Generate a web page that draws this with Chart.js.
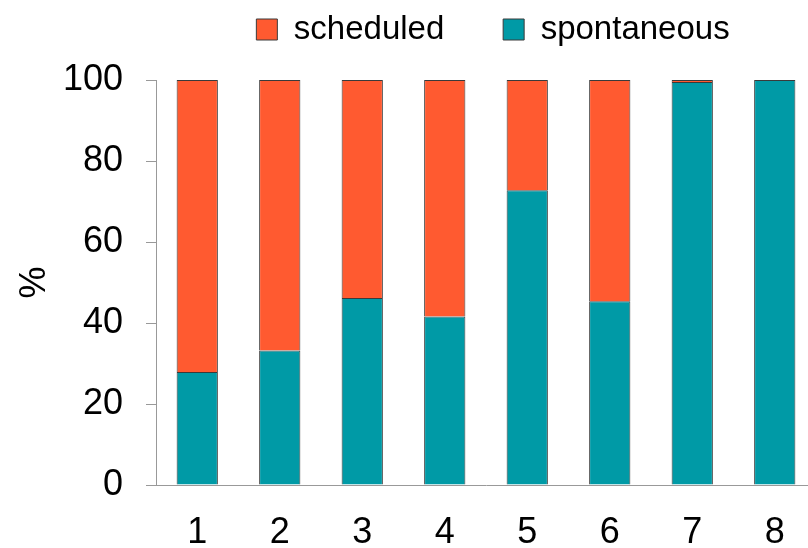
<!DOCTYPE html>
<html>
<head>
<meta charset="utf-8">
<script src="https://cdn.jsdelivr.net/npm/chart.js@4.4.1/dist/chart.umd.min.js"></script>
<style>
  html, body { margin: 0; padding: 0; background: #fff; overflow: hidden; }
  #wrap { width: 816px; height: 548px; }
</style>
</head>
<body>
<div id="wrap"><canvas id="chart" width="816" height="548"></canvas></div>
<script>
const CATEGORIES = ['1', '2', '3', '4', '5', '6', '7', '8'];
const SPONTANEOUS = [27.9, 33.2, 46.2, 41.6, 72.8, 45.4, 99.5, 100];
const SCHEDULED = [72.1, 66.8, 53.8, 58.4, 27.2, 54.6, 0.5, 0];
const Y_TICKS = [0, 20, 40, 60, 80, 100];

const FONT = '"Liberation Sans", Arial, sans-serif';
const AXIS_COLOR = '#999999';

// legend sits right of centre in the reference and leaves a gap above the plot
const legendTweak = {
  id: 'legendTweak',
  beforeLayout(chart) {
    const lg = chart.legend;
    if (!lg || lg._tweaked) return;
    const fit = lg.fit.bind(lg);
    lg.fit = function () {
      fit();
      this.height += 24;
    };
    lg._tweaked = true;
  },
  afterLayout(chart) {
    const lg = chart.legend;
    if (!lg) return;
    lg.left += 85;
    lg.right += 85;
  },
};

new Chart(document.getElementById('chart'), {
  type: 'bar',
  data: {
    labels: CATEGORIES,
    datasets: [
      {
        label: 'spontaneous',
        data: SPONTANEOUS,
        backgroundColor: '#009AA6',
        borderColor: '#3a3a3a',
        borderWidth: 1,
        barPercentage: 0.5,
        categoryPercentage: 1,
      },
      {
        label: 'scheduled',
        data: SCHEDULED,
        backgroundColor: '#FF5A30',
        borderColor: '#3a3a3a',
        borderWidth: 1,
        barPercentage: 0.5,
        categoryPercentage: 1,
      },
    ],
  },
  options: {
    responsive: false,
    animation: false,
    devicePixelRatio: 1,
    layout: { padding: { top: 0, left: 0, right: 0, bottom: 0 } },
    plugins: {
      tooltip: { enabled: false },
      legend: {
        position: 'top',
        reverse: true,
        labels: {
          color: '#000',
          font: { family: FONT, size: 33 },
          boxWidth: 21,
          boxHeight: 21,
          padding: 13,
          generateLabels: (chart) => {
            const items = Chart.defaults.plugins.legend.labels.generateLabels(chart);
            items.forEach((it) => {
              if (it.text === 'scheduled') it.text = 'scheduled     ';
            });
            return items;
          },
        },
      },
    },
    scales: {
      x: {
        stacked: true,
        grid: { display: false, drawTicks: false },
        border: { display: true, color: AXIS_COLOR, width: 1 },
        ticks: { color: '#000', font: { family: FONT, size: 36 }, padding: 26 },
        afterFit: (scale) => { scale.height = 63; },
      },
      y: {
        stacked: true,
        min: 0,
        max: 100,
        afterBuildTicks: (scale) => { scale.ticks = Y_TICKS.map((v) => ({ value: v })); },
        grid: { drawOnChartArea: false, drawTicks: true, tickLength: 10, color: AXIS_COLOR },
        border: { display: true, color: AXIS_COLOR, width: 1 },
        ticks: { color: '#000', font: { family: FONT, size: 36 }, padding: 23 },
        title: {
          display: true,
          text: '%',
          color: '#000',
          font: { family: FONT, size: 36 },
          padding: { top: 13, bottom: 0 },
        },
        afterFit: (scale) => { scale.width = 156; },
      },
    },
  },
  plugins: [legendTweak],
});
</script>
</body>
</html>
